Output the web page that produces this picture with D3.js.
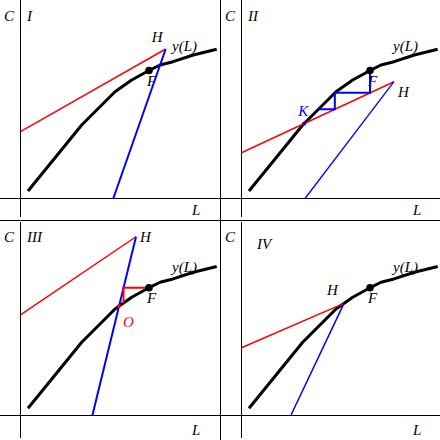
<!DOCTYPE html>
<html>
<head>
<meta charset="utf-8">
<script src="https://cdn.jsdelivr.net/npm/d3@7"></script>
<style>
  body { margin: 0; background: #fff; }
  svg text {
    font-family: "Liberation Serif", "DejaVu Serif", serif;
    font-style: italic;
    font-size: 15px;
  }
</style>
</head>
<body>
<script>
// production curve y(L)
const curveL = [3.75, 30.6, 47.25, 55.6, 63.1, 69.75, 76.25, 86.4, 98.1];
const curveC = [3.75, 36.75, 53.4, 59.25, 63.4, 66.75, 68.4, 71.75, 74.6];

// point F on the curve
const fL = 64.25;

// one entry per panel
const panelNames = ["I", "II", "III", "IV"];
const redStartC = [33.4, 22.9, 50.4, 34];     // red line meets the C axis
const hL = [72.6, 76.25, 57.75, 51.25];       // point H
const hC = [74.75, 58.4, 89.5, 56.2];
const blueStartL = [46.4, 31.75, 35.9, 24.6]; // blue line meets the L axis
const cobwebSteps = 2;                        // staircase in panel II

const svg = d3.select("body").append("svg")
  .attr("width", 440)
  .attr("height", 440);

// panel dividers
svg.append("line").attr("x1", 220.5).attr("x2", 220.5).attr("y1", 0).attr("y2", 440)
  .attr("stroke", "#000").attr("shape-rendering", "crispEdges");
svg.append("line").attr("x1", 0).attr("x2", 440).attr("y1", 220.5).attr("y2", 220.5)
  .attr("stroke", "#000").attr("shape-rendering", "crispEdges");

const curvePts = curveL.map((l, i) => [l, curveC[i]]);
const curveAt = L => {
  for (let i = 1; i < curveL.length; i++) {
    if (L <= curveL[i]) {
      const t = (L - curveL[i - 1]) / (curveL[i] - curveL[i - 1]);
      return curveC[i - 1] + t * (curveC[i] - curveC[i - 1]);
    }
  }
  return curveC[curveC.length - 1];
};
const curveInv = C => {
  for (let i = 1; i < curveC.length; i++) {
    if (C <= curveC[i]) {
      const t = (C - curveC[i - 1]) / (curveC[i] - curveC[i - 1]);
      return curveL[i - 1] + t * (curveL[i] - curveL[i - 1]);
    }
  }
  return curveL[curveL.length - 1];
};
// bisection for where a line crosses the curve
const crossing = (fn, a, b) => {
  for (let k = 0; k < 60; k++) {
    const m = (a + b) / 2;
    if ((curveAt(a) - fn(a)) * (curveAt(m) - fn(m)) <= 0) b = m; else a = m;
  }
  return (a + b) / 2;
};
const fC = curveAt(fL);

const origins = [[0, 0], [221, 0], [0, 221], [221, 221]];
const axisY = [198.5, 198.5, 194.75, 194.75];
const blueWidth = [2, 1.3, 2, 1.5];
const hOffset = [[-14, -7], [4, 15], [4, 5], [-17, -8]];

panelNames.forEach((name, p) => {
  const g = svg.append("g").attr("transform", `translate(${origins[p][0]},${origins[p][1]})`);
  const x = d3.scaleLinear().domain([0, 100]).range([20.5, 220.5]);
  const y = d3.scaleLinear().domain([0, 100]).range([axisY[p], axisY[p] - 200]);
  const line = d3.line().x(d => x(d[0])).y(d => y(d[1]));

  // axes
  g.append("line").attr("x1", 0).attr("x2", 220).attr("y1", y(0)).attr("y2", y(0))
    .attr("stroke", "#000").attr("shape-rendering", "crispEdges");
  g.append("line").attr("x1", x(0)).attr("x2", x(0)).attr("y1", p < 2 ? 0 : 1).attr("y2", 217)
    .attr("stroke", "#000").attr("shape-rendering", "crispEdges");

  g.append("text").attr("x", 4).attr("y", 21).text("C");
  g.append("text").attr("x", p === 3 ? 36 : 27).attr("y", p === 3 ? 28 : 21).text(name);
  g.append("text").attr("x", 192).attr("y", p < 2 ? 215 : 214).text("L");
  g.append("text").attr("x", 172).attr("y", 51).text("y(L)");

  const Fx = x(fL), Fy = y(fC);
  g.append("text").attr("x", Fx - 2).attr("y", Fy + 15).text("F");

  const H = [hL[p], hC[p]];
  g.append("text").attr("x", x(H[0]) + hOffset[p][0]).attr("y", y(H[1]) + hOffset[p][1]).text("H");

  // curve
  g.append("path").attr("d", line(curvePts))
    .attr("fill", "none").attr("stroke", "#000").attr("stroke-width", 3)
    .attr("stroke-linejoin", "round");

  // red and blue lines through H
  const red = [[0, redStartC[p]], H];
  const blue = [[blueStartL[p], 0], H];
  g.append("path").attr("d", line(red))
    .attr("fill", "none").attr("stroke", "#ff0000").attr("stroke-width", 1.5);
  g.append("path").attr("d", line(blue))
    .attr("fill", "none").attr("stroke", "#0000ff").attr("stroke-width", blueWidth[p]);

  const redAt = L => redStartC[p] + (H[1] - redStartC[p]) * L / H[0];
  const blueAt = L => (L - blueStartL[p]) / (H[0] - blueStartL[p]) * H[1];

  if (p === 1) {
    // staircase from F toward K
    const steps = [];
    let L = fL, C = fC;
    steps.push([L, C]);
    for (let s = 0; s < cobwebSteps; s++) {
      C = redAt(L);
      steps.push([L, C]);
      L = curveInv(C);
      steps.push([L, C]);
    }
    g.append("path").attr("d", line(steps))
      .attr("fill", "none").attr("stroke", "#0000ff").attr("stroke-width", 2);
    const kL = crossing(redAt, 5, fL);
    const K = [kL, redAt(kL)];
    g.append("circle").attr("cx", x(K[0])).attr("cy", y(K[1])).attr("r", 2).attr("fill", "#0000ff");
    g.append("text").attr("x", x(K[0]) - 6).attr("y", y(K[1]) - 8)
      .attr("fill", "#0000ff").text("K");
  }

  if (p === 2) {
    // step from F to the blue line and down to the curve
    const bL = blueStartL[p] + fC / H[1] * (H[0] - blueStartL[p]);
    const step = [[fL, fC], [bL, fC], [bL, curveAt(bL)]];
    g.append("path").attr("d", line(step))
      .attr("fill", "none").attr("stroke", "#ff0000").attr("stroke-width", 2);
    const oL = crossing(blueAt, blueStartL[p] + 1, H[0]);
    const O = [oL, blueAt(oL)];
    g.append("circle").attr("cx", x(O[0])).attr("cy", y(O[1])).attr("r", 2).attr("fill", "#ff0000");
    g.append("text").attr("x", x(O[0]) + 4).attr("y", y(O[1]) + 21)
      .attr("fill", "#ff0000").text("O");
  }

  g.append("circle").attr("cx", Fx).attr("cy", Fy).attr("r", 3.8).attr("fill", "#000");
});
</script>
</body>
</html>
